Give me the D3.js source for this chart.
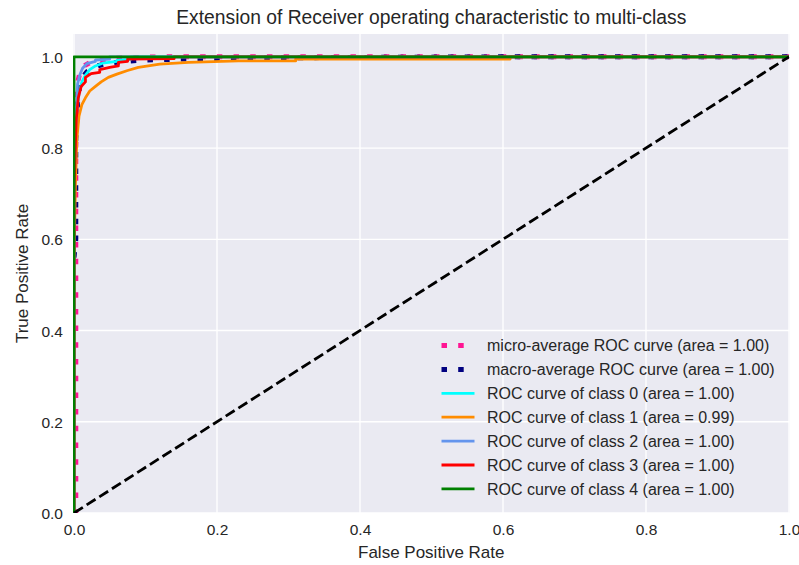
<!DOCTYPE html>
<html>
<head>
<meta charset="utf-8">
<script src="https://cdn.jsdelivr.net/npm/d3@7"></script>
<style>
  html, body { margin: 0; padding: 0; background: #ffffff; }
  svg { display: block; }
  text { font-family: "Liberation Sans", Arial, sans-serif; fill: #262626; }
</style>
</head>
<body>
<svg id="chart" width="799" height="565"></svg>
<script>
// ---------- data ----------
const xTicks = [0.0, 0.2, 0.4, 0.6, 0.8, 1.0];
const yTicks = [0.0, 0.2, 0.4, 0.6, 0.8, 1.0];

const microFpr = [0, 0.0025, 0.0025, 0.004, 0.006, 0.009, 0.014, 0.022, 0.035, 0.06, 0.12, 1];
const microTpr = [0, 0.0, 0.80, 0.90, 0.95, 0.97, 0.98, 0.987, 0.992, 0.997, 1.0, 1.0];

const macroFpr = [0, 0.0025, 0.0025, 0.005, 0.008, 0.012, 0.018, 0.025, 0.035, 0.05, 0.07, 0.1, 0.15, 0.23, 0.31, 0.61, 1];
const macroTpr = [0.56, 0.60, 0.82, 0.90, 0.935, 0.955, 0.967, 0.975, 0.981, 0.986, 0.99, 0.993, 0.995, 0.997, 0.998, 1.0, 1.0];

const class0Fpr = [0, 0, 0.004, 0.007, 0.011, 0.016, 0.022, 0.03, 0.04, 0.06, 0.06, 0.08, 0.08, 1];
const class0Tpr = [0, 0.75, 0.88, 0.92, 0.945, 0.96, 0.972, 0.98, 0.986, 0.99, 0.992, 0.995, 1.0, 1.0];

const class1Fpr = [0, 0, 0.002, 0.004, 0.007, 0.011, 0.016, 0.022, 0.03, 0.038, 0.048, 0.06, 0.075, 0.09, 0.12, 0.16, 0.23, 0.31, 0.31, 0.61, 0.61, 1];
const class1Tpr = [0, 0.55, 0.72, 0.82, 0.87, 0.895, 0.91, 0.925, 0.935, 0.945, 0.955, 0.962, 0.97, 0.977, 0.984, 0.988, 0.991, 0.991, 0.995, 0.995, 1.0, 1.0];

const class2Fpr = [0, 0, 0.003, 0.005, 0.008, 0.012, 0.018, 0.03, 0.03, 0.05, 0.05, 1];
const class2Tpr = [0, 0.70, 0.88, 0.94, 0.96, 0.975, 0.985, 0.99, 0.993, 0.995, 1.0, 1.0];

const class3Fpr = [0, 0, 0.003, 0.006, 0.01, 0.016, 0.016, 0.024, 0.036, 0.036, 0.05, 0.062, 0.062, 0.075, 0.075, 0.14, 0.14, 1];
const class3Tpr = [0, 0.70, 0.86, 0.91, 0.935, 0.945, 0.955, 0.963, 0.966, 0.972, 0.977, 0.98, 0.988, 0.99, 0.995, 0.996, 1.0, 1.0];

const class4Fpr = [0, 0, 1];
const class4Tpr = [0, 1.0, 1.0];

const chanceFpr = [0, 1];
const chanceTpr = [0, 1];

const classAreas = [1.00, 0.99, 1.00, 1.00, 1.00];
const microArea = 1.00;
const macroArea = 1.00;
const classColors = ["#00ffff", "#ff8c00", "#6495ed", "#ff0000", "#008000"];

const titleText = "Extension of Receiver operating characteristic to multi-class";
const xLabelText = "False Positive Rate";
const yLabelText = "True Positive Rate";

// ---------- layout ----------
const svg = d3.select("#chart");
const plotL = 73, plotR = 789.5, plotT = 34, plotB = 513;

const x = d3.scaleLinear().domain([0, 1]).range([74, 789]);
const y = d3.scaleLinear().domain([0, 1.05]).range([plotB, plotT]);

svg.append("rect").attr("x", 0).attr("y", 0).attr("width", 799).attr("height", 565).attr("fill", "#ffffff");
svg.append("rect").attr("x", plotL).attr("y", plotT).attr("width", plotR - plotL).attr("height", plotB - plotT).attr("fill", "#eaeaf2");

svg.append("defs").append("clipPath").attr("id", "clip")
  .append("rect").attr("x", plotL).attr("y", plotT).attr("width", plotR - plotL).attr("height", plotB - plotT);

// grid
const grid = svg.append("g");
grid.selectAll(".gx").data(xTicks).enter().append("line")
  .attr("x1", d => x(d)).attr("x2", d => x(d)).attr("y1", plotT).attr("y2", plotB)
  .attr("stroke", "#ffffff").attr("stroke-width", 1.3);
grid.selectAll(".gy").data(yTicks).enter().append("line")
  .attr("x1", plotL).attr("x2", plotR).attr("y1", d => y(d)).attr("y2", d => y(d))
  .attr("stroke", "#ffffff").attr("stroke-width", 1.3);

// axes (tick labels only, no tick marks/spines)
const xAxis = d3.axisBottom(x).tickValues(xTicks).tickFormat(d3.format(".1f")).tickSize(0).tickPadding(0);
const gx = svg.append("g").attr("transform", `translate(0,${plotB})`).call(xAxis);
gx.select(".domain").remove();
gx.selectAll("text").attr("y", 22).attr("dy", null).attr("font-size", "15.5px").attr("fill", "#262626")
  .style("font-family", '"Liberation Sans", Arial, sans-serif');

const yAxis = d3.axisLeft(y).tickValues(yTicks).tickFormat(d3.format(".1f")).tickSize(0).tickPadding(0);
const gy = svg.append("g").attr("transform", `translate(${plotL},0)`).call(yAxis);
gy.select(".domain").remove();
gy.selectAll("text").attr("x", -10).attr("dy", "0.36em").attr("font-size", "15.5px").attr("fill", "#262626")
  .style("font-family", '"Liberation Sans", Arial, sans-serif');

// curves
const line = d3.line().x(d => x(d[0])).y(d => y(d[1]));
const zip = (a, b) => a.map((v, i) => [v, b[i]]);
const plot = svg.append("g").attr("clip-path", "url(#clip)");

const dotted = "5.5,11.2";
plot.append("path").datum(zip(microFpr, microTpr)).attr("d", line)
  .attr("fill", "none").attr("stroke", "#ff1493").attr("stroke-width", 5).attr("stroke-dasharray", dotted);
plot.append("path").datum(zip(macroFpr, macroTpr)).attr("d", line)
  .attr("fill", "none").attr("stroke", "#000080").attr("stroke-width", 5).attr("stroke-dasharray", dotted);

const classData = [
  zip(class0Fpr, class0Tpr),
  zip(class1Fpr, class1Tpr),
  zip(class2Fpr, class2Tpr),
  zip(class3Fpr, class3Tpr),
  zip(class4Fpr, class4Tpr)
];
classData.forEach((pts, i) => {
  plot.append("path").datum(pts).attr("d", line)
    .attr("fill", "none").attr("stroke", classColors[i]).attr("stroke-width", 2.8)
    .attr("stroke-linejoin", "round");
});

plot.append("path").datum(zip(chanceFpr, chanceTpr)).attr("d", line)
  .attr("fill", "none").attr("stroke", "#000000").attr("stroke-width", 2.8).attr("stroke-dasharray", "10.5,4.5");

// title & axis labels
svg.append("text").attr("x", (plotL + plotR) / 2).attr("y", 24).attr("text-anchor", "middle")
  .attr("font-size", "19.3px").text(titleText);
svg.append("text").attr("x", (plotL + plotR) / 2).attr("y", 558).attr("text-anchor", "middle")
  .attr("font-size", "17px").text(xLabelText);
svg.append("text").attr("transform", `translate(28,${(plotT + plotB) / 2}) rotate(-90)`).attr("text-anchor", "middle")
  .attr("font-size", "17px").text(yLabelText);

// legend
const legendItems = [
  { label: `micro-average ROC curve (area = ${microArea.toFixed(2)})`, color: "#ff1493", w: 5, dash: dotted },
  { label: `macro-average ROC curve (area = ${macroArea.toFixed(2)})`, color: "#000080", w: 5, dash: dotted },
].concat(classAreas.map((a, i) => ({
  label: `ROC curve of class ${i} (area = ${a.toFixed(2)})`, color: classColors[i], w: 2.8, dash: null
})));

const leg = svg.append("g");
legendItems.forEach((it, i) => {
  const cy = 345.5 + i * 23.9;
  const ln = leg.append("line").attr("x1", 441.5).attr("x2", 474.5).attr("y1", cy).attr("y2", cy)
    .attr("stroke", it.color).attr("stroke-width", it.w);
  if (it.dash) ln.attr("stroke-dasharray", it.dash);
  leg.append("text").attr("x", 487).attr("y", cy).attr("dy", "0.36em").attr("font-size", "16px")
    .attr("fill", "#333333").text(it.label);
});
</script>
</body>
</html>
